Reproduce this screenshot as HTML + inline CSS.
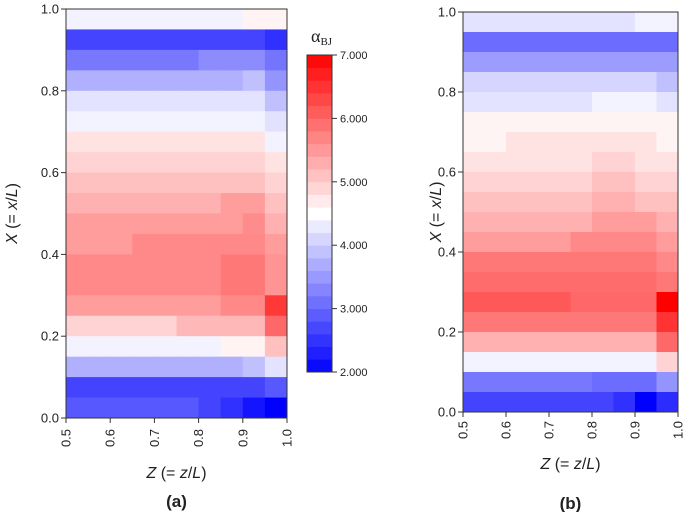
<!DOCTYPE html>
<html><head><meta charset="utf-8"><style>
html,body{margin:0;padding:0;background:#fff;}
svg{display:block;font-family:"Liberation Sans",Arial,sans-serif;}
</style></head><body>
<svg id="chart" width="685" height="512" viewBox="0 0 685 512"></svg>
<script>
// Panel (a) values, rows from top (X=0.95-1.0) to bottom (X=0-0.05), columns Z=0.5..0.95
const valsA = [
[4.38,4.38,4.38,4.38,4.38,4.38,4.38,4.38,4.62,4.62],
[2.67,2.67,2.67,2.67,2.67,2.67,2.67,2.67,2.67,2.47],
[3.18,3.18,3.18,3.18,3.18,3.18,3.37,3.37,3.37,3.14],
[3.73,3.73,3.73,3.73,3.73,3.73,3.73,3.73,3.88,3.45],
[4.23,4.23,4.23,4.23,4.23,4.23,4.23,4.23,4.23,3.88],
[4.38,4.38,4.38,4.38,4.38,4.38,4.38,4.38,4.38,4.22],
[4.77,4.77,4.77,4.77,4.77,4.77,4.77,4.77,4.77,4.38],
[4.93,4.93,4.93,4.93,4.93,4.93,4.93,4.93,4.93,4.77],
[5.12,5.12,5.12,5.12,5.12,5.12,5.12,5.12,5.12,4.93],
[5.27,5.27,5.27,5.27,5.27,5.27,5.27,5.47,5.47,5.12],
[5.47,5.47,5.47,5.47,5.47,5.47,5.47,5.47,5.63,5.27],
[5.47,5.47,5.47,5.67,5.67,5.67,5.67,5.67,5.67,5.47],
[5.67,5.67,5.67,5.67,5.67,5.67,5.67,5.82,5.82,5.55],
[5.67,5.67,5.67,5.67,5.67,5.67,5.67,5.82,5.82,5.55],
[5.47,5.47,5.47,5.47,5.47,5.47,5.47,5.67,5.67,6.45],
[4.93,4.93,4.93,4.93,4.93,5.2,5.2,5.2,5.2,5.98],
[4.38,4.38,4.38,4.38,4.38,4.38,4.38,4.62,4.62,5.12],
[3.73,3.73,3.73,3.73,3.73,3.73,3.73,3.73,3.88,4.23],
[2.67,2.67,2.67,2.67,2.67,2.67,2.67,2.67,2.67,2.86],
[2.86,2.86,2.86,2.86,2.86,2.86,2.67,2.47,2.2,2.0]
];
// Panel (b) values
const valsB = [
[4.23,4.23,4.23,4.23,4.23,4.23,4.23,4.23,4.38,4.38],
[3.06,3.06,3.06,3.06,3.06,3.06,3.06,3.06,3.06,3.06],
[3.53,3.53,3.53,3.53,3.53,3.53,3.53,3.53,3.53,3.53],
[4.09,4.09,4.09,4.09,4.09,4.09,4.09,4.09,4.09,3.88],
[4.23,4.23,4.23,4.23,4.23,4.23,4.38,4.38,4.38,4.23],
[4.61,4.61,4.61,4.61,4.61,4.61,4.61,4.61,4.61,4.61],
[4.61,4.61,4.77,4.77,4.77,4.77,4.77,4.77,4.77,4.61],
[4.77,4.77,4.77,4.77,4.77,4.77,4.93,4.93,4.77,4.77],
[4.93,4.93,4.93,4.93,4.93,4.93,5.12,5.12,4.93,4.93],
[5.12,5.12,5.12,5.12,5.12,5.12,5.27,5.27,5.12,5.12],
[5.27,5.27,5.27,5.27,5.27,5.27,5.47,5.47,5.47,5.27],
[5.47,5.47,5.47,5.47,5.47,5.67,5.67,5.67,5.67,5.47],
[5.82,5.82,5.82,5.82,5.82,5.82,5.82,5.82,5.82,5.67],
[5.94,5.94,5.94,5.94,5.94,5.94,5.94,5.94,5.94,5.82],
[6.14,6.14,6.14,6.14,6.14,5.98,5.98,5.98,5.98,7.0],
[5.82,5.82,5.82,5.82,5.82,5.82,5.82,5.82,5.82,6.5],
[5.27,5.27,5.27,5.27,5.27,5.27,5.27,5.27,5.27,5.98],
[4.38,4.38,4.38,4.38,4.38,4.38,4.38,4.38,4.38,4.93],
[3.18,3.18,3.18,3.18,3.18,3.18,3.06,3.06,3.06,3.45],
[2.67,2.67,2.67,2.67,2.67,2.67,2.67,2.47,2.0,2.43]
];
const xTicks = ["0.5","0.6","0.7","0.8","0.9","1.0"];
const yTicks = ["0.0","0.2","0.4","0.6","0.8","1.0"];
const cbTicks = ["2.000","3.000","4.000","5.000","6.000","7.000"];
const vMin = 2, vMax = 7;

const NS = "http://www.w3.org/2000/svg";
const svg = document.getElementById("chart");
function mk(tag, attrs, parent, text){
  const e = document.createElementNS(NS, tag);
  for (const k in attrs) e.setAttribute(k, attrs[k]);
  if (text !== undefined) e.textContent = text;
  (parent || svg).appendChild(e);
  return e;
}
function color(v){
  const mid = (vMin+vMax)/2, h=(vMax-vMin)/2;
  if (v <= mid){ const t = Math.min(1,(mid-v)/h); const c = Math.round(255*(1-t)); return `rgb(${c},${c},255)`; }
  const t = Math.min(1,(v-mid)/h); const c = Math.round(255*(1-t)); return `rgb(255,${c},${c})`;
}

function panel(id, vals, L, R, T, B, tickLabelY, titleY, letterY, letter, ylabX, ytickX){
  const g = mk("g", {});
  
  
  const rows = vals.length, cols = vals[0].length;
  const xs = z => L + (z-0.5)/0.5*(R-L);
  const ys = x => B - x*(B-T);
  for (let r=0;r<rows;r++){
    for (let c=0;c<cols;c++){
      const z0 = 0.5 + c*0.5/cols, z1 = 0.5+(c+1)*0.5/cols;
      const x1 = 1 - r/rows, x0 = 1-(r+1)/rows;
      const rect = mk("rect", {x:xs(z0), y:ys(x1), width:xs(z1)-xs(z0)+0.4, height:ys(x0)-ys(x1)+0.4, fill:color(vals[r][c])}, g);
      
      
    }
  }
  const frame = mk("rect", {x:L, y:T, width:R-L, height:B-T, fill:"none", stroke:"#333", "stroke-width":1}, g);
  
  
  xTicks.forEach((lab,i)=>{
    const x = xs(parseFloat(lab));
    mk("line",{x1:x,y1:B,x2:x,y2:B+5,stroke:"#333"},g);
    const t = mk("text",{x:x+4.5,y:tickLabelY,"font-size":13,"text-anchor":"middle",fill:"#222",transform:`rotate(-90 ${x+4.5} ${tickLabelY})`},g,lab);
    
    
  });
  yTicks.forEach((lab)=>{
    const y = ys(parseFloat(lab));
    mk("line",{x1:L-5,y1:y,x2:L,y2:y,stroke:"#333"},g);
    const t = mk("text",{x:ytickX,y:y+4.5,"font-size":13,"text-anchor":"end",fill:"#222"},g,lab);
    
    
  });
  const cx = (L+R)/2;
  const xt = mk("text",{x:cx,y:titleY,"font-size":16,"text-anchor":"middle",fill:"#222"},g);
  xt.innerHTML = '<tspan font-style="italic">Z</tspan> (= <tspan font-style="italic">z</tspan>/<tspan font-style="italic">L</tspan>)';
  
  
  const cy = (T+B)/2;
  const yt = mk("text",{x:ylabX,y:cy,"font-size":16,"text-anchor":"middle",fill:"#222",transform:`rotate(-90 ${ylabX} ${cy})`},g);
  yt.innerHTML = '<tspan font-style="italic">X</tspan> (= <tspan font-style="italic">x</tspan>/<tspan font-style="italic">L</tspan>)';
  
  
  const lt = mk("text",{x:cx,y:letterY,"font-size":17,"font-weight":"bold","text-anchor":"middle",fill:"#222"},g,letter);
  
  
}

panel("a", valsA, 66, 287, 9, 418, 438, 478, 507, "(a)", 17, 59);
panel("b", valsB, 463, 678, 12, 412, 430, 469, 509, "(b)", 441, 456);

// Colorbar
const cb = mk("g",{});


const cbL=307, cbR=332, cbT=55, cbB=372, nLev=25;
const cbY = v => cbB - (v-vMin)/(vMax-vMin)*(cbB-cbT);
for (let i=0;i<nLev;i++){
  const v0 = vMin + i*(vMax-vMin)/nLev, v1 = vMin+(i+1)*(vMax-vMin)/nLev;
  mk("rect",{x:cbL,y:cbY(v1),width:cbR-cbL,height:cbY(v0)-cbY(v1)+0.4,fill:color((v0+v1)/2)},cb);
}
mk("rect",{x:cbL,y:cbT,width:cbR-cbL,height:cbB-cbT,fill:"none",stroke:"#333","stroke-width":1},cb);
cbTicks.forEach(lab=>{
  const y = cbY(parseFloat(lab));
  mk("line",{x1:cbR,y1:y,x2:cbR+5,y2:y,stroke:"#333"},cb);
  const t = mk("text",{x:cbR+8,y:y+4,"font-size":11,fill:"#222"},cb,lab);
  
  
});
const ct = mk("text",{x:311,y:42,"font-size":18,fill:"#222","font-family":"Liberation Serif, serif"},cb);
ct.innerHTML = 'α<tspan font-size="11" dy="3">BJ</tspan>';


</script>
</body></html>
